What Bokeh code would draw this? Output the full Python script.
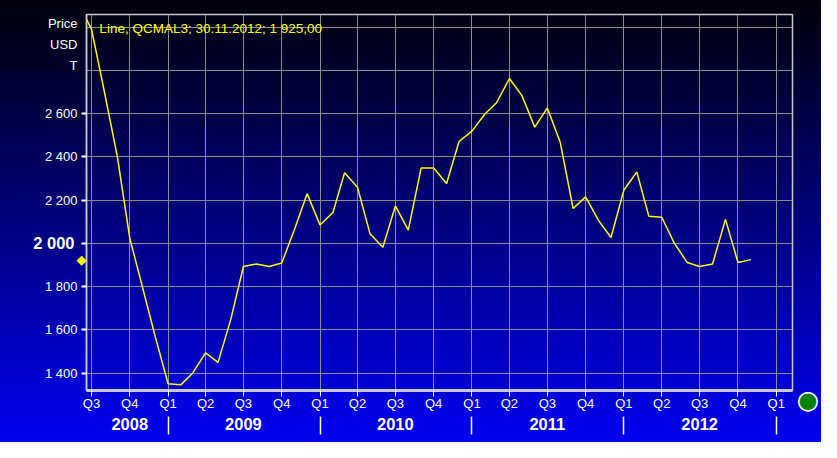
import pandas as pd
from bokeh.plotting import figure
from bokeh.models import Range1d, FixedTicker, LinearAxis, Label
from bokeh.embed import file_html
from bokeh.resources import INLINE

# ---------------- data ----------------
months = ["2008-06", "2008-07", "2008-08", "2008-09", "2008-10", "2008-11", "2008-12",
          "2009-01", "2009-02", "2009-03", "2009-04", "2009-05", "2009-06", "2009-07",
          "2009-08", "2009-09", "2009-10", "2009-11", "2009-12",
          "2010-01", "2010-02", "2010-03", "2010-04", "2010-05", "2010-06", "2010-07",
          "2010-08", "2010-09", "2010-10", "2010-11", "2010-12",
          "2011-01", "2011-02", "2011-03", "2011-04", "2011-05", "2011-06", "2011-07",
          "2011-08", "2011-09", "2011-10", "2011-11", "2011-12",
          "2012-01", "2012-02", "2012-03", "2012-04", "2012-05", "2012-06", "2012-07",
          "2012-08", "2012-09", "2012-10", "2012-11"]
prices = [3105, 2990, 2700, 2402, 2024, 1794, 1570,
          1351, 1347, 1400, 1494, 1450, 1651, 1893,
          1905, 1893, 1909, 2067, 2230,
          2085, 2143, 2327, 2260, 2045, 1982, 2173,
          2061, 2349, 2348, 2277, 2471,
          2519, 2598, 2650, 2762, 2683, 2537, 2626,
          2468, 2161, 2215, 2106, 2027,
          2247, 2330, 2125, 2121, 2001, 1912, 1893,
          1905, 2111, 1912, 1925]

y_ticks = [1400, 1600, 1800, 2000, 2200, 2400, 2600]
grid_levels = [1400, 1600, 1800, 2000, 2200, 2400, 2600, 2800, 3000]
highlight_tick = 2000
years = ["2008", "2009", "2010", "2011", "2012"]
year_centers = ["2008-10-01", "2009-07-01", "2010-07-01", "2011-07-01", "2012-07-01"]
year_bounds = ["2009-01-01", "2010-01-01", "2011-01-01", "2012-01-01", "2013-01-01"]
title_text = "Line, QCMAL3; 30.11.2012; 1 925,00"
axis_title = ["Price", "USD", "T"]

ORIGIN = pd.Timestamp("2008-01-01")


def day(s):
    return int((pd.Timestamp(s) - ORIGIN).days)


x = [day(m + "-01") for m in months]
quarter_starts = pd.date_range("2008-07-01", "2013-01-01", freq="QS")
q_ticks = [day(d) for d in quarter_starts]
q_labels = {t: f"Q{d.quarter}" for t, d in zip(q_ticks, quarter_starts)}


def fmt(v):
    return f"{v:,}".replace(",", " ")


# ---------------- layout ----------------
W, H = 821, 442
FL, FR, FT, FB = 86, 22, 14, 52
FW, FH = W - FL - FR, H - FT - FB
x0, x1 = day("2008-06-19"), day("2013-02-09")
y0, y1 = 1320, 3058


def fy(sy):  # figure pixel (from top) -> data y
    return y1 - (sy - FT) * (y1 - y0) / FH


def fx(sx):  # figure pixel (from left) -> data x
    return x0 + (sx - FL) * (x1 - x0) / FW


FONT = "Liberation Sans"

p = figure(width=W, height=H, output_backend="svg", toolbar_location=None,
           x_range=Range1d(x0, x1), y_range=Range1d(y0, y1),
           min_border_left=FL, min_border_right=FR, min_border_top=FT, min_border_bottom=FB)
p.background_fill_color = None
p.border_fill_color = None
p.styles = {"background": "linear-gradient(to bottom, #00000a 0%, #0000f0 100%)"}
p.outline_line_color = "#c8c8c8"
p.outline_line_width = 1.5

# grid
p.xgrid.ticker = FixedTicker(ticks=q_ticks)
p.ygrid.ticker = FixedTicker(ticks=grid_levels)
for g in (p.xgrid, p.ygrid):
    g.grid_line_color = "#8c8c8c"
    g.grid_line_width = 1

# quarter axis
xa = p.below[0]
xa.ticker = FixedTicker(ticks=q_ticks)
xa.major_label_overrides = q_labels
xa.axis_line_color = "#c8c8c8"
xa.axis_line_width = 3
xa.major_tick_in = 0
xa.major_tick_out = 6
xa.major_tick_line_color = "white"
xa.minor_tick_line_color = None
xa.minor_tick_out = 0
xa.minor_tick_in = 0
xa.major_label_text_color = "white"
xa.major_label_text_font = FONT
xa.major_label_text_font_size = "13px"
xa.major_label_standoff = -1

# year axis (separators as minor ticks, year names as labels)
xa2 = LinearAxis(ticker=FixedTicker(ticks=[day(d) for d in year_centers],
                                    minor_ticks=[day(d) for d in year_bounds]),
                 major_label_overrides={day(d): y for d, y in zip(year_centers, years)},
                 axis_line_color=None, major_tick_line_color=None,
                 major_tick_in=0, major_tick_out=0,
                 minor_tick_in=-3, minor_tick_out=21,
                 minor_tick_line_color="white", minor_tick_line_width=1.5,
                 major_label_standoff=-17, major_label_text_font=FONT,
                 major_label_text_font_size="16.5px", major_label_text_font_style="bold",
                 major_label_text_color="white")
p.add_layout(xa2, "below")

# y axis: numbers + stacked unit title; tick marks drawn as minor ticks
title_pos = [fy(s) for s in (22.5, 44.1, 65.3)]
yax = p.yaxis[0]
yax.ticker = FixedTicker(ticks=y_ticks + title_pos, minor_ticks=y_ticks)
ov = {v: ("" if v == highlight_tick else fmt(v)) for v in y_ticks}
ov.update({v: t for v, t in zip(title_pos, axis_title)})
yax.major_label_overrides = ov
yax.axis_line_color = "#c8c8c8"
yax.axis_line_width = 1.5
yax.major_tick_in = 0
yax.major_tick_out = 5
yax.major_tick_line_color = None
yax.minor_tick_in = 0
yax.minor_tick_out = 5
yax.minor_tick_line_color = "white"
yax.minor_tick_line_width = 2
yax.major_label_text_color = "white"
yax.major_label_text_font = FONT
yax.major_label_text_font_size = "13px"
yax.major_label_standoff = 4

# highlighted 2 000
ya2 = LinearAxis(ticker=FixedTicker(ticks=[highlight_tick]),
                 major_label_overrides={highlight_tick: fmt(highlight_tick)},
                 axis_line_color=None, major_tick_line_color=None, minor_tick_line_color=None,
                 major_tick_in=0, major_tick_out=0, minor_tick_in=0, minor_tick_out=0,
                 major_label_standoff=-33, major_label_text_font=FONT,
                 major_label_text_font_size="16.5px", major_label_text_font_style="bold",
                 major_label_text_color="white")
p.add_layout(ya2, "left")

# current-value marker on the price axis
last_val = prices[-1]
ya3 = LinearAxis(ticker=FixedTicker(ticks=[last_val]),
                 major_label_overrides={last_val: "\u25c6"},
                 axis_line_color=None, major_tick_line_color=None, minor_tick_line_color=None,
                 major_tick_in=0, major_tick_out=0, minor_tick_in=0, minor_tick_out=0,
                 major_label_standoff=-56, major_label_text_font="DejaVu Sans",
                 major_label_text_font_size="13px", major_label_text_color="#ffff00")
p.add_layout(ya3, "left")

# status dot at bottom right
ra_kw = dict(ticker=FixedTicker(ticks=[y0]),
             major_label_overrides={y0: "\n\u25cf"},
             axis_line_color=None, major_tick_line_color=None, minor_tick_line_color=None,
             major_tick_in=0, major_tick_out=0, minor_tick_in=0, minor_tick_out=0,
             major_label_standoff=5, major_label_text_font="DejaVu Sans",
             major_label_text_font_size="24px", major_label_text_color="#008000",
             major_label_text_line_height=0.65)
if "major_label_text_outline_color" in LinearAxis.properties():
    ra_kw["major_label_text_outline_color"] = "white"
p.add_layout(LinearAxis(**ra_kw), "right")

# series
p.line(x, prices, line_color="#ffff00", line_width=1.5)

# legend-like caption inside the plot
p.add_layout(Label(x=fx(99), y=fy(28.3), text=title_text, text_color="#ffff00",
                   text_font=FONT, text_font_size="13.5px",
                   text_align="left", text_baseline="middle"))

open("out.html", "w", encoding="utf-8").write(file_html(p, INLINE))
